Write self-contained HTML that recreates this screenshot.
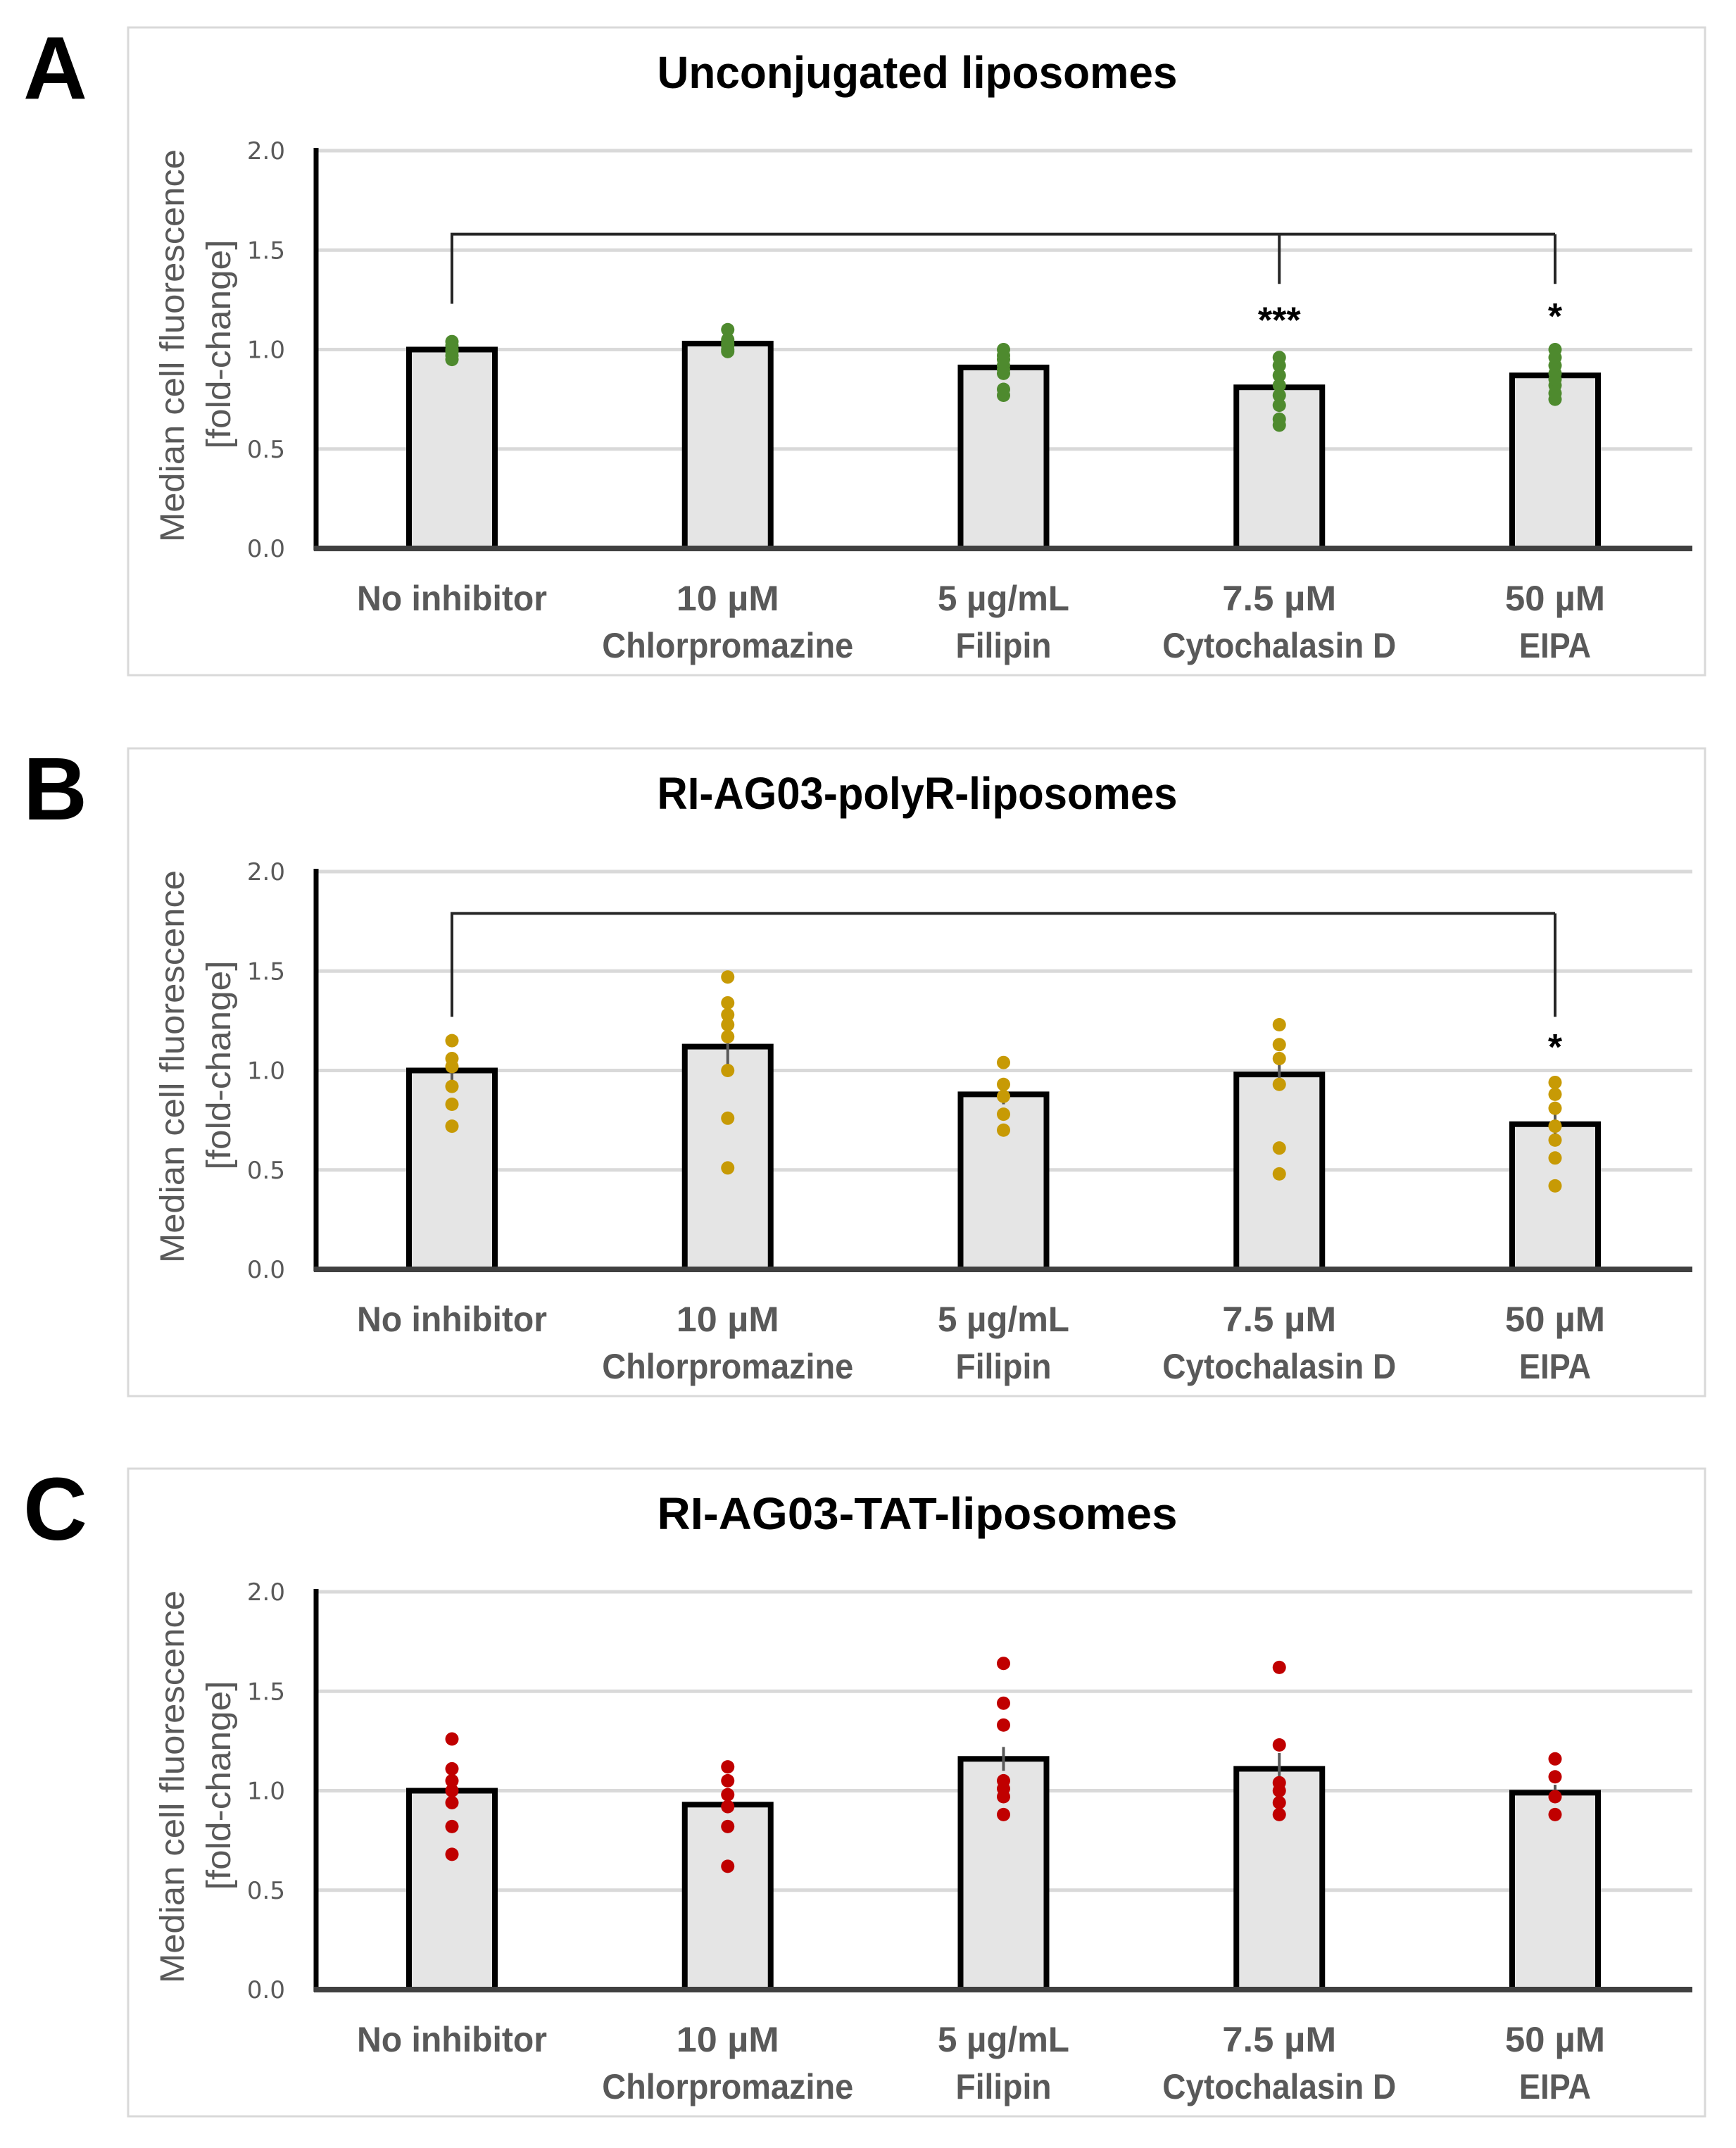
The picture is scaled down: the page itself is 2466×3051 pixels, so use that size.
<!DOCTYPE html>
<html><head><meta charset="utf-8">
<style>
html,body{margin:0;padding:0;background:#fff;}
svg{display:block;}
text{font-family:"Liberation Sans",sans-serif;}
</style></head>
<body>
<svg id="fig" width="2466" height="3051" viewBox="0 0 2466 3051" xmlns="http://www.w3.org/2000/svg"></svg>
<script>
// ---- data ----
const categories = ["No inhibitor","10 µM|Chlorpromazine","5 µg/mL|Filipin","7.5 µM|Cytochalasin D","50 µM|EIPA"];
const yTicks = [0.0, 0.5, 1.0, 1.5, 2.0];
const yTickLabels = ["0.0","0.5","1.0","1.5","2.0"];
const panelTitles = ["Unconjugated liposomes","RI-AG03-polyR-liposomes","RI-AG03-TAT-liposomes"];
const panelLetters = ["A","B","C"];

const meansA = [1.00, 1.03, 0.91, 0.81, 0.87];
const errA = [0.02, 0.02, 0.03, 0.04, 0.03];
const dotsA = [
  [0.95,0.97,0.99,1.00,1.02,1.04],
  [0.99,1.00,1.02,1.03,1.05,1.10],
  [0.77,0.80,0.88,0.90,0.92,0.95,0.97,1.00],
  [0.62,0.65,0.72,0.77,0.82,0.87,0.92,0.96],
  [0.75,0.78,0.82,0.85,0.88,0.92,0.96,1.00]
];
const meansB = [1.00, 1.12, 0.88, 0.98, 0.73];
const errB = [0.05, 0.10, 0.05, 0.08, 0.05];
const dotsB = [
  [1.15,1.06,1.02,0.92,0.83,0.72],
  [1.47,1.34,1.28,1.23,1.17,1.00,0.76,0.51],
  [1.04,0.93,0.87,0.78,0.70],
  [1.23,1.13,1.06,0.93,0.61,0.48],
  [0.94,0.88,0.81,0.72,0.65,0.56,0.42]
];
const meansC = [1.00, 0.93, 1.16, 1.11, 0.99];
const errC = [0.04, 0.04, 0.06, 0.08, 0.04];
const dotsC = [
  [1.26,1.11,1.05,1.00,0.94,0.82,0.68],
  [1.12,1.05,0.98,0.92,0.82,0.62],
  [1.64,1.44,1.33,1.05,1.01,0.97,0.88],
  [1.62,1.23,1.04,1.00,0.94,0.88],
  [1.16,1.07,0.97,0.88]
];
const bracketA = {from:0, to:[3,4], level:1.58, dropFrom:1.23, dropTo:[1.33,1.33], stars:["***","*"], starLevels:[1.17,1.19]};
const bracketB = {from:0, to:[4], level:1.79, dropFrom:1.27, dropTo:[1.27], stars:["*"], starLevels:[1.14]};

const panels = [
  {means:meansA, err:errA, dots:dotsA, color:"#4e8a2e", bracket:bracketA},
  {means:meansB, err:errB, dots:dotsB, color:"#c79a05", bracket:bracketB},
  {means:meansC, err:errC, dots:dotsC, color:"#c00000", bracket:null}
];

// ---- layout ----
const NS = "http://www.w3.org/2000/svg";
const svg = document.getElementById("fig");
const offsets = [0, 1024, 2047];
const X0 = 449, XR = 2404, BAR0 = 642, BARSTEP = 391.75, BARW = 122;
const labelW = [[270],[146,357],[187,136],[162,332],[142,102]];
function mk(tag, attrs, parent){ const e=document.createElementNS(NS,tag); for(const k in attrs) e.setAttribute(k,attrs[k]); (parent||svg).appendChild(e); return e; }

panels.forEach((p, pi) => {
  const dy = offsets[pi];
  const yS = v => 779 + dy - v * 282.5;
  const xS = i => BAR0 + i * BARSTEP;
  const g = mk("g", {});
  
  

  const frame = mk("rect", {x:182, y:39+dy, width:2240, height:920, fill:"none", stroke:"#d9d9d9", "stroke-width":3}, g);
  
  

  const letter = mk("text", {x:33, y:140+dy, "font-size":126, "font-weight":"bold", fill:"#000"}, g);
  letter.textContent = panelLetters[pi];
  
  

  const title = mk("text", {x:1303, y:125+dy, "font-size":64, "font-weight":"bold", "text-anchor":"middle", fill:"#000", textLength:739, lengthAdjust:"spacingAndGlyphs"}, g);
  title.textContent = panelTitles[pi];
  
  

  yTicks.forEach((t, ti) => {
    if (t > 0) {
      const gl = mk("line", {x1:X0, x2:XR, y1:yS(t), y2:yS(t), stroke:"#d9d9d9", "stroke-width":5}, g);
      
      
    }
    const tl = mk("text", {x:405, y:yS(t)+12, "font-size":34, "text-anchor":"end", fill:"#595959", style:"font-family:'DejaVu Sans',sans-serif"}, g);
    tl.textContent = yTickLabels[ti];
    
    
  });

  const yt1 = mk("text", {transform:`translate(261 ${491+dy}) rotate(-90)`, "font-size":48, "text-anchor":"middle", fill:"#595959", textLength:558, lengthAdjust:"spacingAndGlyphs"}, g);
  yt1.textContent = "Median cell fluorescence";
  
  
  const yt2 = mk("text", {transform:`translate(327 ${489+dy}) rotate(-90)`, "font-size":48, "text-anchor":"middle", fill:"#595959", textLength:297, lengthAdjust:"spacingAndGlyphs"}, g);
  yt2.textContent = "[fold-change]";
  
  

  p.means.forEach((m, i) => {
    const b = mk("rect", {x:xS(i)-BARW/2, y:yS(m), width:BARW, height:yS(0)-yS(m), fill:"#e5e5e5", stroke:"#000", "stroke-width":8}, g);
    
    
  });
  p.means.forEach((m, i) => {
    const e = mk("line", {x1:xS(i), x2:xS(i), y1:yS(m+p.err[i]), y2:yS(m-p.err[i]), stroke:"#595959", "stroke-width":4}, g);
    
    
  });
  p.dots.forEach((arr, i) => {
    arr.forEach(v => {
      const c = mk("circle", {cx:xS(i), cy:yS(v), r:9.5, fill:p.color}, g);
      
      
    });
  });
  const ya = mk("line", {x1:X0, x2:X0, y1:yS(2)-4, y2:yS(0)+3, stroke:"#000", "stroke-width":7}, g);
  
  
  const xa = mk("line", {x1:X0-3, x2:XR, y1:yS(0), y2:yS(0), stroke:"#404040", "stroke-width":8}, g);
  
  

  categories.forEach((c, i) => {
    const parts = c.split("|");
    parts.forEach((txt, li) => {
      const t = mk("text", {x:xS(i), y:867+dy+li*67, "font-size":50, "font-weight":"bold", "text-anchor":"middle", fill:"#595959", textLength:labelW[i][li], lengthAdjust:"spacingAndGlyphs"}, g);
      t.textContent = txt;
      
      
    });
  });

  const br = p.bracket;
  if (br) {
    const lastX = xS(br.to[br.to.length-1]);
    const parts = [`M${xS(br.from)} ${yS(br.dropFrom)} V${yS(br.level)} H${lastX}`];
    br.to.forEach((ti, k) => parts.push(`M${xS(ti)} ${yS(br.level)} V${yS(br.dropTo[k])}`));
    const bp = mk("path", {d:parts.join(" "), fill:"none", stroke:"#262626", "stroke-width":4}, g);
    
    
    br.to.forEach((ti, k) => {
      const s = mk("text", {x:xS(ti), y:yS(br.starLevels[k])+24, "font-size":52, "font-weight":"bold", "text-anchor":"middle", fill:"#000"}, g);
      s.textContent = br.stars[k];
      
      
    });
  }
});
</script>
</body></html>
